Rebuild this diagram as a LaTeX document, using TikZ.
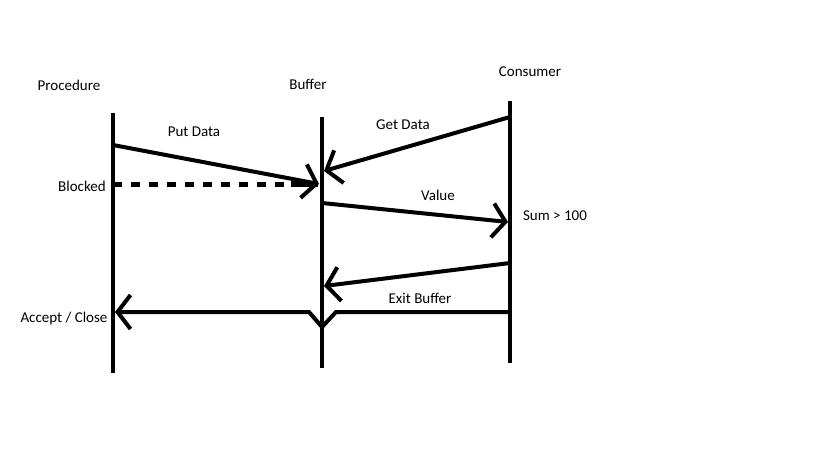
\documentclass[tikz,border=0pt]{standalone}
\usepackage{fontspec}
\setmainfont{Carlito}
\usetikzlibrary{arrows.meta}
\begin{document}
\begin{tikzpicture}[x=1pt,y=-1pt,
  lifeline/.style={line width=4.5pt},
  msg/.style={line width=4pt,-{Straight Barb[length=13pt,width=34pt,line width=4pt]}},
  blockline/.style={line width=5pt,dash pattern=on 9pt off 9pt},
  lbl/.style={font=\fontsize{15}{17}\selectfont,inner sep=0pt}]
\useasboundingbox[fill=white] (0,0) rectangle (819,460);
% lifelines
\coordinate (pT) at (113,113); \coordinate (pB) at (113,373);
\coordinate (bT) at (322,117); \coordinate (bB) at (322,368);
\coordinate (cT) at (510,101); \coordinate (cB) at (510,363);
\draw[lifeline] (pT) -- (pB);
\draw[lifeline] (bT) -- (bB);
\draw[lifeline] (cT) -- (cB);
% titles
\node[lbl] (tp) at (69,85) {Procedure};
\node[lbl] (tb) at (308,84) {Buffer};
\node[lbl] (tc) at (530,72) {Consumer};
% messages
\coordinate (pd1) at (113,145); \coordinate (pd2) at (319,184);
\draw[msg] (pd1) -- (pd2);
\node[lbl] (lpd) at (194,132) {Put Data};
\coordinate (gd1) at (510,117); \coordinate (gd2) at (324,171);
\draw[msg] (gd1) -- (gd2);
\node[lbl] (lgd) at (403,125) {Get Data};
\coordinate (bl1) at (113,184); \coordinate (bl2) at (291,184); \coordinate (bl3) at (318,184);
\draw[blockline] (bl1) -- (bl2);
\draw[line width=6pt] (bl2) -- (bl3);
\node[lbl] (lbl1) at (82,186) {Blocked};
\coordinate (v1) at (322,203); \coordinate (v2) at (508,222);
\draw[msg] (v1) -- (v2);
\node[lbl] (lv) at (438,195) {Value};
\node[lbl] (ls) at (555,216) {Sum > 100};
\coordinate (r1) at (510,263); \coordinate (r2) at (324,286);
\draw[msg] (r1) -- (r2);
\coordinate (e1) at (510,312); \coordinate (j1) at (336,312); \coordinate (j2) at (322,327);
\coordinate (j3) at (309,312); \coordinate (e2) at (115,312);
\draw[msg] (e1) -- (j1) -- (j2) -- (j3) -- (e2);
\node[lbl] (le) at (420,298) {Exit Buffer};
\node[lbl] (la) at (64,318) {Accept / Close};
\end{tikzpicture}
\end{document}
